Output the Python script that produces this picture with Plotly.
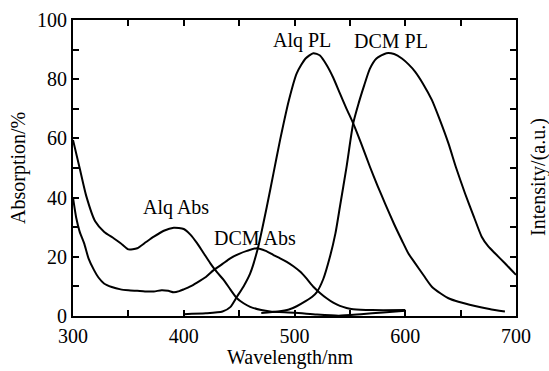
import plotly.graph_objects as go

# Alq absorption
alq_abs_x = [300, 306, 312, 320, 328, 337, 343, 350, 358, 366, 373, 382, 391, 400, 406, 412, 418,
             424, 430, 436, 442, 448, 454, 460, 470, 478, 500, 520, 540, 560, 580, 600]
alq_abs_y = [59.5, 50, 40.5, 32, 28.5, 26.2, 24.6, 22.5, 22.9, 25, 26.8, 28.8, 29.8, 29.4, 27.5, 24.6, 21.2,
             17.8, 14.8, 12.2, 9, 6, 4.3, 3.1, 2.0, 1.5, 1.1, 0.5, 0.1, 0.6, 1.2, 1.8]

# DCM absorption
dcm_abs_x = [300, 303, 306, 310, 314, 319, 323, 328, 335, 343, 350, 358, 365, 373, 380, 386, 391, 396,
             400, 406, 412, 420, 427, 435, 442, 450, 457, 466, 474, 481, 487, 493, 499, 505, 511, 517,
             523, 529, 535, 541, 547, 553, 570, 600]
dcm_abs_y = [40, 33, 28.5, 24.6, 19.5, 15.5, 13, 11, 9.8, 9, 8.7, 8.5, 8.3, 8.3, 8.7, 8.5, 8, 8.4,
             9, 10, 11.3, 13.2, 15.5, 17.6, 19.5, 21, 22, 22.9, 22, 20.6, 19.5, 18.3, 16.8, 15, 12.6, 9.9,
             7.8, 6, 4.5, 3.4, 2.7, 2.3, 2, 2]

# Alq photoluminescence
alq_pl_x = [400, 420, 435, 442, 448, 454, 460, 467, 475, 481, 487, 495, 502, 510, 517, 523, 529, 535,
            541, 547, 553, 560, 568, 575, 582, 590, 597, 603, 609, 617, 624, 632, 639, 648, 663, 676, 690]
alq_pl_y = [0.6, 0.9, 1.5, 3, 6.5, 10, 14.4, 23, 36.9, 48.2, 59.5, 73, 82, 87, 88.8, 88, 84.8, 80.5,
            75.2, 70, 65.1, 58.5, 50.5, 44, 37.8, 31, 25.5, 21, 17.8, 13.5, 9.9, 7.6, 6, 4.8, 3.4, 2.4, 1.5]

# DCM photoluminescence
dcm_pl_x = [470, 485, 495, 502, 510, 516, 520, 526, 532, 537, 541, 547, 553, 558, 563, 568, 574, 583,
            590, 597, 603, 609, 616, 624, 631, 639, 646, 654, 662, 669, 675, 681, 690, 700]
dcm_pl_y = [1.0, 1.5, 2.2, 3.3, 5, 6.5, 8, 12.5, 20, 28, 36.9, 50.4, 65.1, 72, 78, 83.5, 87, 88.8,
            88.5, 87, 85, 82.5, 78.5, 73, 66.5, 58.3, 50, 41.4, 33.5, 26.8, 23.5, 21.2, 17.8, 13.9]

labels = ["Alq Abs", "DCM Abs", "Alq PL", "DCM PL"]
label_x = [393, 464, 507, 587]
label_y = [36.5, 26.4, 93, 93]

FONT = "Liberation Serif"
TXT = dict(family=FONT, size=20, color="black")

fig = go.Figure()
for xs, ys in [(alq_abs_x, alq_abs_y), (dcm_abs_x, dcm_abs_y), (alq_pl_x, alq_pl_y), (dcm_pl_x, dcm_pl_y)]:
    fig.add_trace(go.Scatter(x=xs, y=ys, mode="lines",
                             line=dict(color="black", width=2, shape="spline", smoothing=0.6),
                             showlegend=False, hoverinfo="skip"))

for t, x, y in zip(labels, label_x, label_y):
    fig.add_annotation(x=x, y=y, text=t, showarrow=False, xref="x", yref="y", font=TXT)

# axis titles as annotations (pixel-placed relative to plot area)
fig.add_annotation(x=0, xref="paper", xanchor="center", xshift=-55, y=0.5, yref="paper",
                   text="Absorption/%", textangle=-90, showarrow=False, font=TXT)
fig.add_annotation(x=1, xref="paper", xanchor="center", xshift=23, y=0.47, yref="paper",
                   text="Intensity/(a.u.)", textangle=-90, showarrow=False, font=TXT)
fig.add_annotation(x=0.49, xref="paper", y=0, yref="paper", yanchor="middle", yshift=-41,
                   text="Wavelength/nm", showarrow=False, font=TXT)

axis_common = dict(
    showline=True, linecolor="black", linewidth=2, mirror="ticks",
    ticks="inside", ticklen=6, tickwidth=2, tickcolor="black",
    showgrid=False, zeroline=False, automargin=False,
    tickfont=TXT,
)

fig.update_layout(
    width=549, height=371,
    margin=dict(l=73, r=33, t=20, b=55),
    paper_bgcolor="white", plot_bgcolor="white",
    font=dict(family=FONT),
    xaxis=dict(range=[300, 700], dtick=100, tick0=300, ticklabelstandoff=1,
               minor=dict(dtick=50, ticks="inside", ticklen=6, tickwidth=2, tickcolor="black"),
               **axis_common),
    yaxis=dict(range=[0, 100], dtick=20, tick0=0,
               minor=dict(dtick=10, ticks="inside", ticklen=6, tickwidth=2, tickcolor="black"),
               **axis_common),
)

fig.write_html("out.html", config={"displayModeBar": False},
               post_script="document.body.style.margin='0';document.body.style.padding='0';")
